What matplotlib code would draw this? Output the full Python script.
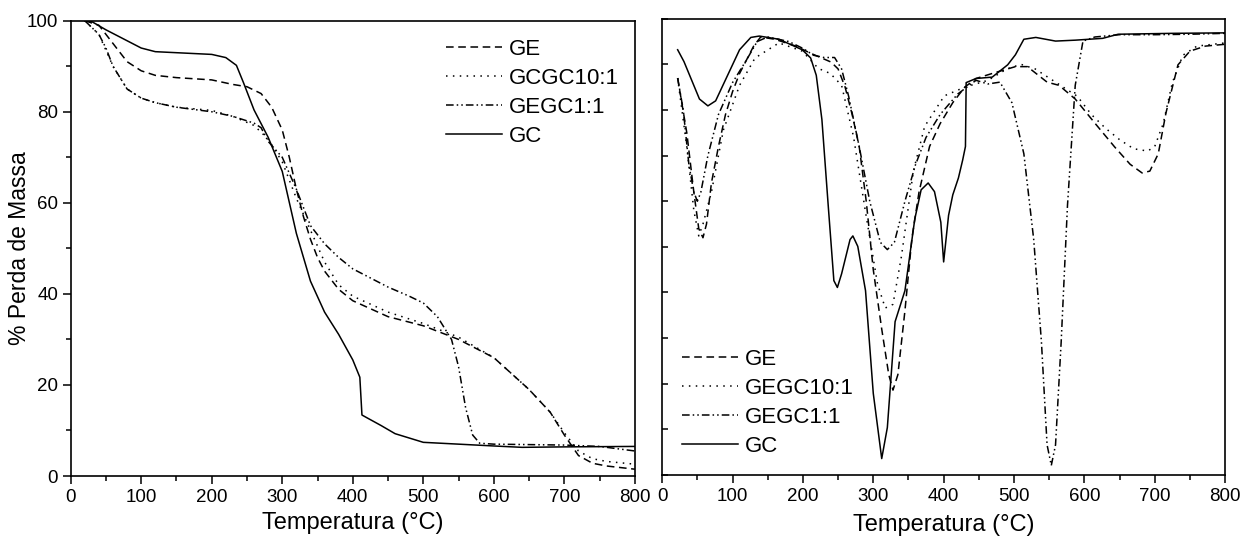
import numpy as np
import matplotlib
matplotlib.use('Agg')
import matplotlib.pyplot as plt
from matplotlib.ticker import MultipleLocator

plt.rcParams['font.family'] = ['Liberation Sans', 'DejaVu Sans']

# ---------------- TGA (painel esquerdo) ----------------
tga_ge_t = [20, 40, 50, 60, 80, 100, 120, 150, 200, 230, 250, 270, 285, 300, 310, 320, 330, 340,
            350, 360, 380, 400, 450, 500, 550, 600, 650, 680, 700, 720, 740, 760, 800]
tga_ge_v = [100, 99, 97, 95, 91, 89, 88, 87.5, 87, 86, 85.5, 84, 81, 76, 70, 63, 57, 52,
            48, 45, 41, 38.5, 35, 33, 30, 26, 19, 14, 9, 4.5, 2.8, 2.2, 1.5]

tga_gcgc_t = [20, 40, 60, 80, 100, 120, 150, 200, 230, 260, 280, 300, 320, 340, 360, 380, 400,
              450, 500, 550, 600, 650, 680, 700, 720, 740, 760, 800]
tga_gcgc_v = [100, 97, 90, 85, 83, 82, 81, 80.3, 79, 77, 74, 69, 61, 54, 47, 42, 39.5,
              36, 33.5, 30.5, 26, 19, 14, 9.5, 5.5, 3.8, 3.2, 2.6]

tga_gegc_t = [20, 40, 50, 60, 80, 100, 120, 150, 200, 230, 260, 270, 280, 300, 320, 340, 360, 380,
              400, 450, 480, 500, 520, 540, 550, 560, 570, 580, 600, 700, 750, 800]
tga_gegc_v = [100, 97, 94, 90, 85, 83, 82, 81, 80, 79, 77.5, 76.5, 73.5, 70, 63, 55, 51, 48,
              45.5, 41.5, 39.5, 38, 35, 30, 24, 15, 9, 7.2, 7, 6.8, 6.5, 5.5]

tga_gc_t = [20, 30, 50, 75, 100, 120, 200, 220, 235, 245, 260, 280, 300, 320, 340, 360, 380, 400,
            410, 413, 420, 440, 460, 500, 550, 600, 640, 700, 800]
tga_gc_v = [100, 99.8, 98, 96, 94, 93.2, 92.6, 91.9, 90.2, 86.4, 80.4, 74.4, 66.9, 53.3, 42.8, 36,
            31.1, 25.5, 21.7, 13.4, 12.8, 11.1, 9.3, 7.4, 7, 6.6, 6.3, 6.4, 6.5]

# ---------------- DTG (painel direito, unidade arbitraria) ----------------
dtg_ge_t = [22, 35, 45, 52, 58, 63, 70, 80, 90, 100, 110, 120, 130, 140, 160, 190, 210, 225, 240,
            250, 260, 270, 280, 290, 300, 312, 322, 328, 335, 345, 355, 365, 380, 395, 413, 430,
            446, 469, 502, 519, 547, 564, 587, 615, 643, 665, 682, 693, 705, 716, 733, 750, 772, 800]
dtg_ge_v = [87, 75, 62, 54, 52, 55, 64, 72, 79, 84, 88, 91, 94, 96, 95.5, 94, 92.5, 91.5, 90.5,
            89, 85, 79, 72, 60, 45, 32, 22, 18.6, 22, 36, 52, 62, 72, 77, 81.6, 85,
            86.9, 88, 89.5, 89.5, 86.1, 85.4, 82.4, 77.1, 71.9, 68.1, 66.2, 66.6, 70.4, 79.4, 89.9,
            92.9, 94, 94.4]

dtg_gegc10_t = [22, 35, 45, 52, 58, 70, 87, 110, 132, 166, 199, 222, 239, 255, 272, 289, 306, 317,
                328, 340, 357, 373, 401, 430, 463, 490, 510, 530, 550, 570, 590, 610, 630, 650,
                670, 690, 700, 712, 725, 740, 760, 800]
dtg_gegc10_v = [87, 72, 58, 52.4, 55, 62, 75.6, 85.4, 91.4, 94.7, 92.9, 89.1, 88, 85.4, 74.1, 57.6,
                41.9, 36.6, 37.4, 47.9, 66.6, 76.4, 83.1, 85, 86.5, 89, 90, 89, 87, 85, 83, 79,
                76, 73.5, 71.5, 71, 72, 77, 86, 92, 94, 94.7]

dtg_gegc1_t = [22, 30, 38, 45, 50, 55, 65, 80, 100, 120, 135, 150, 180, 200, 215, 230, 245, 255,
               265, 280, 295, 310, 320, 330, 345, 360, 375, 395, 420, 446, 463, 480, 497, 514, 528,
               539, 547, 553, 559, 567, 576, 587, 598, 615, 650, 700, 750, 800]
dtg_gegc1_v = [87, 80, 68, 62, 60, 62, 70, 79, 86, 91, 95, 96, 95, 93.5, 92, 91.5, 91.5, 89,
               83, 72, 60, 51, 49.4, 51, 60, 68, 74, 79, 83.5, 86.5, 85.7, 86.1, 81.6, 70.4, 51.6,
               29.1, 6.6, 2.1, 6.6, 29.1, 59.1, 85.4, 95.1, 96, 96.5, 96.5, 96.6, 96.8]

dtg_gc_t = [22, 31, 53, 65, 76, 93, 110, 126, 138, 166, 199, 211, 219, 227, 236, 244, 249, 255,
            267, 271, 278, 289, 300, 312, 320, 331, 345, 359, 368, 378, 387, 396, 400, 407, 413,
            421, 427, 431, 432, 446, 469, 491, 502, 514, 531, 559, 587, 626, 648, 727, 800]
dtg_gc_v = [93.2, 90.6, 82.4, 80.9, 82, 87.6, 93.2, 95.9, 96.2, 95.5, 93.2, 91.4, 87.6, 77.9, 59,
            42.6, 41.1, 44.1, 51.6, 52.4, 50.1, 40.4, 17.9, 3.6, 10.4, 33.6, 40.4, 56.1, 62.5, 64,
            62.1, 55.4, 46.7, 56.9, 61.4, 65.1, 69, 72, 86, 86.9, 87.2, 89.9, 92.1, 95.5, 95.9,
            95.1, 95.3, 95.7, 96.6, 96.8, 96.9]

ls_ge = (0, (5, 3))
ls_dot = (0, (1, 3.5))
ls_dd = (0, (5, 2, 1, 2, 1, 2))
lw = 1.1

fig = plt.figure(figsize=(12.4, 5.38), dpi=100)
ax1 = fig.add_axes([0.057, 0.1152, 0.455, 0.8463])
ax2 = fig.add_axes([0.534, 0.1171, 0.454, 0.8481])

# painel esquerdo
ax1.plot(tga_ge_t, tga_ge_v, color='black', lw=lw, ls=ls_ge, label='GE')
ax1.plot(tga_gcgc_t, tga_gcgc_v, color='black', lw=lw, ls=ls_dot, label='GCGC10:1')
ax1.plot(tga_gegc_t, tga_gegc_v, color='black', lw=lw, ls=ls_dd, label='GEGC1:1')
ax1.plot(tga_gc_t, tga_gc_v, color='black', lw=lw, ls='-', label='GC')
ax1.set_xlim(0, 800)
ax1.set_ylim(0, 100)
ax1.xaxis.set_major_locator(MultipleLocator(100))
ax1.xaxis.set_minor_locator(MultipleLocator(50))
ax1.yaxis.set_major_locator(MultipleLocator(20))
ax1.yaxis.set_minor_locator(MultipleLocator(10))
ax1.set_xlabel('Temperatura (°C)', fontsize=17, labelpad=5)
ax1.set_ylabel('% Perda de Massa', fontsize=16.5)
ax1.yaxis.set_label_coords(-0.071, 0.5)
ax1.legend(loc='upper left', bbox_to_anchor=(0.65, 0.98), frameon=False, fontsize=16,
           handlelength=2.5, handletextpad=0.3, labelspacing=0.36, borderaxespad=0)

# painel direito
ax2.plot(dtg_ge_t, dtg_ge_v, color='black', lw=lw, ls=ls_ge, label='GE')
ax2.plot(dtg_gegc10_t, dtg_gegc10_v, color='black', lw=lw, ls=ls_dot, label='GEGC10:1')
ax2.plot(dtg_gegc1_t, dtg_gegc1_v, color='black', lw=lw, ls=ls_dd, label='GEGC1:1')
ax2.plot(dtg_gc_t, dtg_gc_v, color='black', lw=lw, ls='-', label='GC')
ax2.set_xlim(0, 800)
ax2.set_ylim(0, 100)
ax2.xaxis.set_major_locator(MultipleLocator(100))
ax2.xaxis.set_minor_locator(MultipleLocator(50))
ax2.yaxis.set_major_locator(MultipleLocator(10))
ax2.set_yticklabels([])
ax2.set_xlabel('Temperatura (°C)', fontsize=17, labelpad=7)
ax2.legend(loc='lower left', bbox_to_anchor=(0.02, 0.02), frameon=False, fontsize=16,
           handlelength=2.5, handletextpad=0.3, labelspacing=0.36, borderaxespad=0)

for ax in (ax1, ax2):
    for s in ax.spines.values():
        s.set_linewidth(1.2)
    ax.tick_params(axis='both', which='major', direction='out', length=6, width=1.1,
                   labelsize=13.5, pad=3)
    ax.tick_params(axis='both', which='minor', direction='out', length=3.5, width=1.1)
ax2.tick_params(axis='y', which='major', direction='in', length=4)

fig.savefig('out.png', dpi=100)
